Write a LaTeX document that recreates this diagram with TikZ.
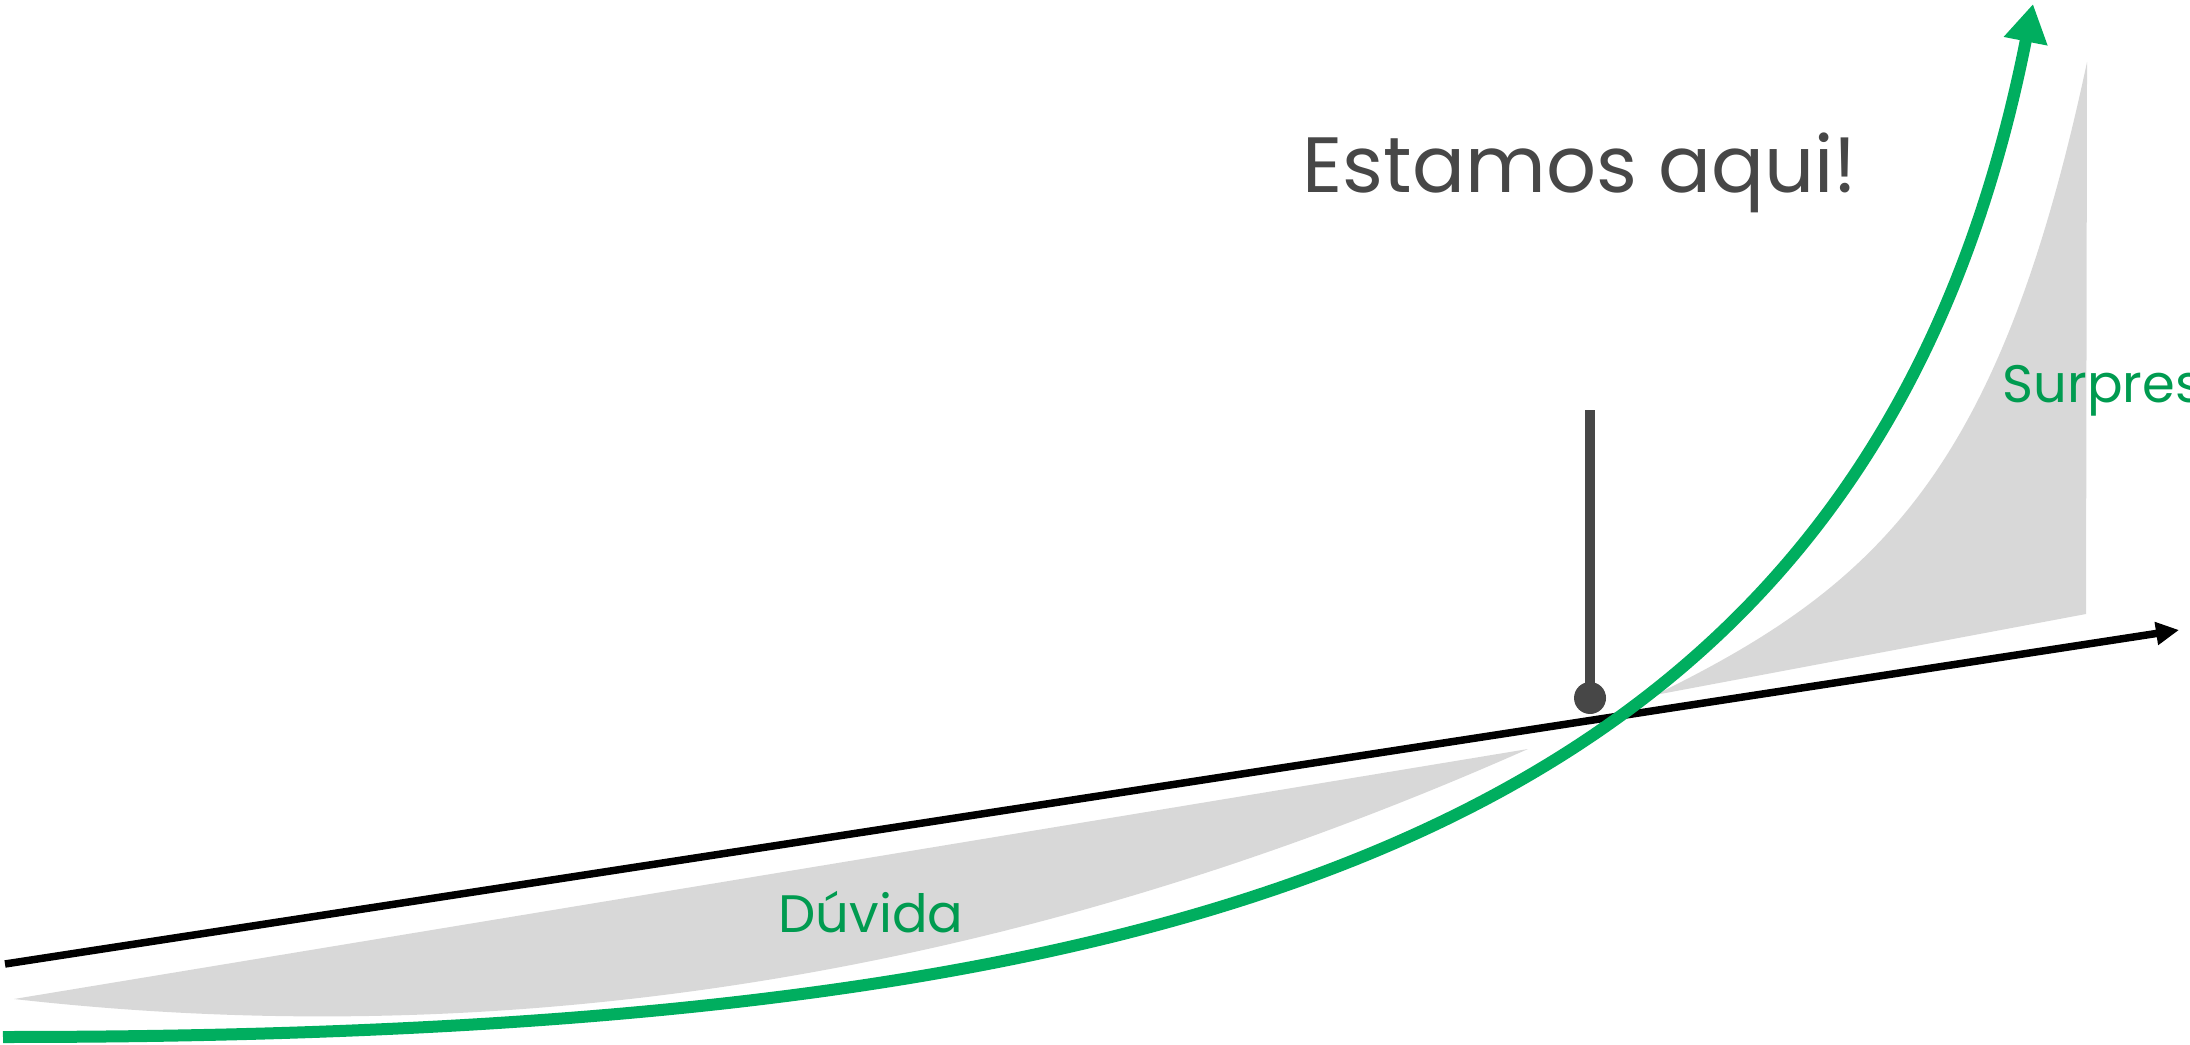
\documentclass[tikz,border=0pt]{standalone}
\usepackage{fontspec}
\setmainfont{Poppins}
\usetikzlibrary{arrows.meta}
\definecolor{growth}{HTML}{00AE5F}
\definecolor{growthtext}{HTML}{009B50}
\definecolor{zonegray}{HTML}{D8D8D8}
\definecolor{inkgray}{HTML}{474747}
\tikzset{
  curve/.style={draw=growth, line width=1.2mm, -{Triangle[length=3.8mm, width=4.2mm]}},
  axis/.style={draw=black, line width=0.75mm, -{Triangle[length=2.3mm, width=2.2mm]}},
  zone/.style={fill=zonegray},
  pin/.style={draw=inkgray, line width=1.05mm},
  pindot/.style={circle, fill=inkgray, minimum size=3.2mm, inner sep=0pt},
  title/.style={text=inkgray, font=\fontsize{22.3}{26}\selectfont, inner sep=0pt, anchor=base west},
  tag/.style={text=growthtext, font=\fontsize{15}{18}\selectfont, inner sep=0pt, anchor=base west},
}

\begin{document}
\begin{tikzpicture}[x=0.1mm, y=-0.1mm]
  \clip (0,0) rectangle (2190,1045);
  % shaded zones
  \fill[zone] (14,999) -- (1528,749) .. controls (1023,973) and (519,1056) .. (14,999) -- cycle;
  \fill[zone] (1655,695) .. controls (1880,585) and (2000,470) .. (2087,62) -- (2086,614) -- cycle;
  % axis and growth curve
  \coordinate (ax0) at (5,964);
  \coordinate (ax1) at (2179,630);
  \draw[axis] (ax0) -- (ax1);
  \coordinate (c0) at (3,1037);
  \coordinate (c1) at (2033,4);
  \draw[curve] (c0) .. controls (1200,1037) and (1867,842) .. (c1);
  % marker
  \node[pindot] (here) at (1590,698) {};
  \coordinate (pintop) at (1590,410);
  \draw[pin] (here.center) -- (pintop);
  % labels
  \node[title] (heretext) at (1302,193) {Estamos aqui!};
  \node[tag] (surprise) at (2002,403) {Surpresa};
  \node[tag] (doubt) at (778,932) {Dúvida};
\end{tikzpicture}
\end{document}
